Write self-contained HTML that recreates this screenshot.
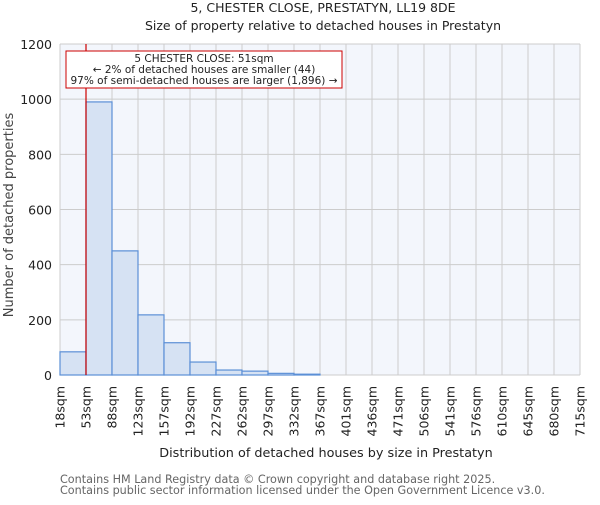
<!DOCTYPE html>
<html><head><meta charset="utf-8"><style>body{margin:0;background:#fff}svg{font-family:"DejaVu Sans","Liberation Sans",sans-serif}</style></head>
<body>
<svg id="chart" width="600" height="500" xmlns="http://www.w3.org/2000/svg">
<text x="323" y="12" text-anchor="middle" font-size="12.5" fill="#222">5, CHESTER CLOSE, PRESTATYN, LL19 8DE</text>
<text x="323" y="30" text-anchor="middle" font-size="12.5" fill="#222">Size of property relative to detached houses in Prestatyn</text>
<rect x="60" y="44" width="520" height="331" fill="#f3f6fc"/>
<g id="grid"></g><g id="bars"></g><g id="axes"></g>
<line id="marker" y1="44" y2="375" stroke="#cc0000" stroke-width="1.2"/>
<rect x="66" y="51" width="276" height="37" fill="#fff" stroke="#cc0000" stroke-width="1"/>
<text x="204" y="62" text-anchor="middle" font-size="10.5" fill="#222">5 CHESTER CLOSE: 51sqm</text>
<text x="204" y="73" text-anchor="middle" font-size="10.5" fill="#222">← 2% of detached houses are smaller (44)</text>
<text x="204" y="84" text-anchor="middle" font-size="10.5" fill="#222">97% of semi-detached houses are larger (1,896) →</text>
<text x="326" y="457" text-anchor="middle" font-size="12.8" fill="#222">Distribution of detached houses by size in Prestatyn</text>
<text transform="translate(13,215) rotate(-90)" text-anchor="middle" font-size="13" fill="#444">Number of detached properties</text>
<text x="60" y="483" font-size="11.2" fill="#666">Contains HM Land Registry data © Crown copyright and database right 2025.</text>
<text x="60" y="494" font-size="11.2" fill="#666">Contains public sector information licensed under the Open Government Licence v3.0.</text>
</svg>
<script>
const binLabels=["18sqm","53sqm","88sqm","123sqm","157sqm","192sqm","227sqm","262sqm","297sqm","332sqm","367sqm","401sqm","436sqm","471sqm","506sqm","541sqm","576sqm","610sqm","645sqm","680sqm","715sqm"];
const counts=[84,990,450,218,117,47,18,14,6,3,0,0,0,0,0,0,0,0,0,0];
const yTicks=[0,200,400,600,800,1000,1200];
const propertySize=51;
const binStart=18, binWidth=33;
const X0=60,X1=580,Y0=375,Y1=44,YMAX=1200;
const bw=(X1-X0)/counts.length;
const x=i=>X0+i*bw;
const y=v=>Y0-(v/YMAX)*(Y0-Y1);
const NS="http://www.w3.org/2000/svg";
function mk(t,a,p){const e=document.createElementNS(NS,t);for(const k in a)e.setAttribute(k,a[k]);p.appendChild(e);return e;}
const grid=document.getElementById('grid'),bars=document.getElementById('bars'),axes=document.getElementById('axes');
yTicks.forEach(v=>{
 const l=mk('line',{x1:X0,x2:X1,y1:y(v),y2:y(v),stroke:'#ccc','stroke-width':1},grid);
 
 
 const t=mk('text',{x:X0-8,y:y(v)+5,'text-anchor':'end','font-size':12.5,fill:'#222'},axes);
 t.textContent=v;
 
 
});
binLabels.forEach((s,i)=>{
 const l=mk('line',{x1:x(i),x2:x(i),y1:Y1,y2:Y0,stroke:'#ccc','stroke-width':1},grid);
 
 
 const t=mk('text',{transform:`translate(${x(i)+4.5},386) rotate(-90)`,'text-anchor':'end','font-size':12.5,fill:'#222'},axes);
 t.textContent=s;
 
 
});
counts.forEach((c,i)=>{
 if(c<=0)return;
 const r=mk('rect',{x:x(i),y:y(c),width:bw,height:Y0-y(c),fill:'#d6e2f3',stroke:'#5b8fd6','stroke-width':1.2},bars);
 
 
});
const m=document.getElementById('marker');
const mx=X0+(propertySize-binStart)/binWidth*bw;
m.setAttribute('x1',mx);m.setAttribute('x2',mx);
</script>
</body></html>
